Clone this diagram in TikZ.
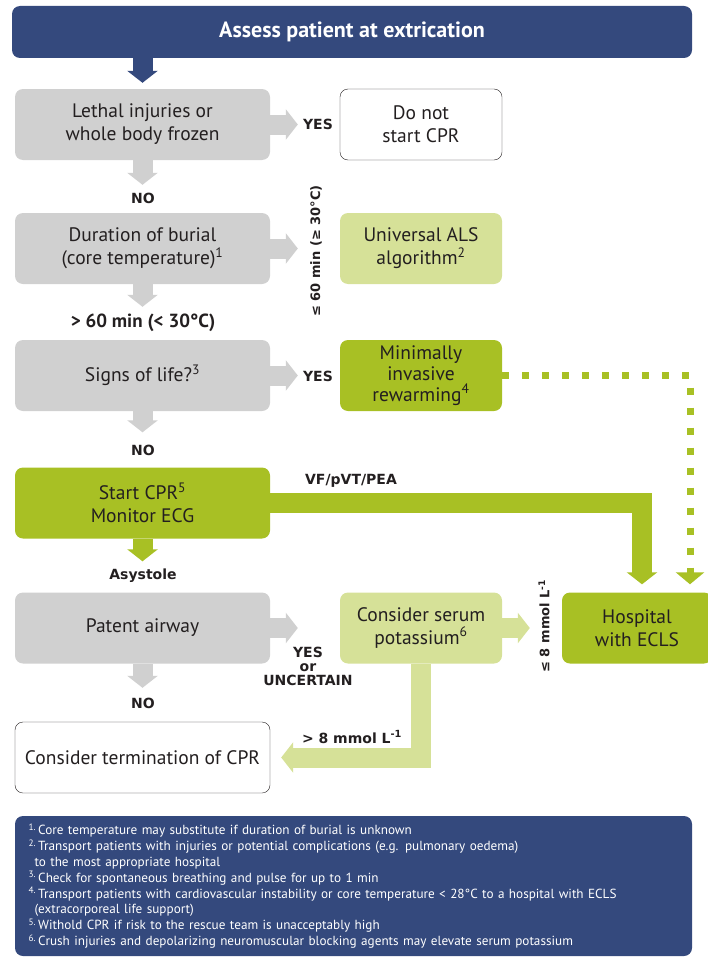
\documentclass[tikz,border=0pt]{standalone}
\usepackage{fontspec}
\setmainfont{PT Sans}
\newfontfamily\lblfont{DejaVu Sans}
\usetikzlibrary{arrows.meta, positioning}

\definecolor{navy}{RGB}{52,73,125}
\definecolor{boxgrey}{RGB}{208,208,208}
\definecolor{palegreen}{RGB}{214,225,152}
\definecolor{leafgreen}{RGB}{168,192,36}
\definecolor{inktext}{RGB}{35,31,32}

\begin{document}
\begin{tikzpicture}[
    x=1pt, y=-1pt,
    box/.style = {rectangle, rounded corners=8pt, minimum width=255pt, minimum height=71pt,
                  text centered, align=center, inner sep=2pt, text=inktext,
                  font=\fontsize{19.5}{23}\selectfont},
    greybox/.style = {box, fill=boxgrey},
    sidebox/.style = {box, minimum width=162pt},
    whitebox/.style = {box, draw=inktext, fill=white, thin},
    lightbox/.style = {sidebox, fill=palegreen},
    greenbox/.style = {sidebox, fill=leafgreen},
    flow/.style = {line width=20pt, -{Triangle[width=30pt, length=12pt]}},
    dots/.style = {line width=7pt, dash pattern=on 7pt off 13pt, draw=leafgreen,
                   -{Triangle[width=28pt, length=12pt]}},
    lbl/.style = {text=inktext, font=\lblfont\bfseries\fontsize{14}{15}\selectfont, align=center, inner sep=1pt}
]
\clip (0,0) rectangle (708,958);

% Header and footnotes
\node (header) [rectangle, rounded corners=8pt, fill=navy, minimum width=680pt, minimum height=52pt,
      text=white, font=\bfseries\fontsize{22}{26}\selectfont] at (352,32) {Assess patient at extrication};
\node (notes) [rectangle, rounded corners=8pt, fill=navy, minimum width=677pt, minimum height=140pt,
      text width=650pt, align=left, text=white, font=\fontsize{13.2}{15.85}\selectfont] at (353.5,886) {%
\textsuperscript{1.}\,Core temperature may substitute if duration of burial is unknown\\
\textsuperscript{2.}\,Transport patients with injuries or potential complications (e.g. pulmonary oedema)\\
\hspace*{6pt}to the most appropriate hospital\\
\textsuperscript{3.}\,Check for spontaneous breathing and pulse for up to 1 min\\
\textsuperscript{4.}\,Transport patients with cardiovascular instability or core temperature < 28°C to a hospital with ECLS\\
\hspace*{6pt}(extracorporeal life support)\\
\textsuperscript{5.}\,Withold CPR if risk to the rescue team is unacceptably high\\
\textsuperscript{6.}\,Crush injuries and depolarizing neuromuscular blocking agents may elevate serum potassium};

% Nodes - left column
\node (lethal) [greybox] at (142.5,124.5) {Lethal injuries or\\ whole body frozen};
\node (burial) [greybox] at (142.5,248.5) {Duration of burial\\ (core temperature)\textsuperscript{1}};
\node (signs) [greybox] at (142.5,375.5) {Signs of life?\textsuperscript{3}};
\node (startcpr) [greybox, fill=leafgreen] at (142.5,503) {Start CPR\textsuperscript{5}\\ Monitor ECG};
\node (airway) [greybox] at (142.5,628) {Patent airway};
\node (termination) [whitebox] at (142.5,757.5) {Consider termination of CPR};

% Nodes - right column
\node (nocpr) [whitebox, minimum width=162pt] at (421,124.5) {Do not\\ start CPR};
\node (als) [lightbox] at (421,248.5) {Universal ALS\\ algorithm\textsuperscript{2}};
\node (rewarm) [greenbox, font=\fontsize{19.5}{21}\selectfont] at (421,375.5) {Minimally\\ invasive\\ rewarming\textsuperscript{4}};
\node (potassium) [lightbox] at (421,628) {Consider serum\\ potassium\textsuperscript{6}};
\node (hospital) [greenbox, minimum width=150pt] at (637,628) {Hospital\\ with ECLS};

% Arrows - down the left column
\draw [flow, draw=navy, shorten >=6pt] (header.south -| lethal.north) -- (lethal.north);
\draw [flow, draw=boxgrey, shorten >=28pt] (lethal) -- (burial);
\draw [flow, draw=boxgrey, shorten >=33pt] (burial) -- (signs);
\draw [flow, draw=boxgrey, shorten >=35pt] (signs) -- (startcpr);
\draw [flow, draw=leafgreen, shorten >=31pt] (startcpr) -- (airway);
\draw [flow, draw=boxgrey, shorten >=34pt] (airway) -- (termination);

% Arrows - to the right
\draw [flow, draw=boxgrey, shorten >=42pt] (lethal) -- (nocpr);
\draw [flow, draw=boxgrey, shorten >=42pt] (burial) -- (als);
\draw [flow, draw=boxgrey, shorten >=42pt] (signs) -- (rewarm);
\draw [flow, draw=boxgrey, shorten >=42pt] (airway) -- (potassium);
\draw [flow, draw=palegreen, shorten >=32pt] (potassium) -- (hospital);

% Arrows - into hospital and back to termination
\coordinate (vfturn) at (642,503);
\coordinate (dotturn) at (690,375.5);
\draw [flow, draw=leafgreen, shorten >=8pt] (startcpr.east) -- (vfturn) -- (vfturn |- hospital.north);
\draw [dots, shorten >=8pt] (rewarm.east) -- (dotturn) -- (dotturn |- hospital.north);
\draw [flow, draw=palegreen, shorten >=11pt] (potassium.south) |- (termination.east);

% Labels
\node [lbl] at (318,124.5) {YES};
\node [lbl] at (143,198) {NO};
\node [lbl, rotate=90, font=\lblfont\bfseries\fontsize{13}{14}\selectfont] at (316,251) {≤ 60 min (≥ 30°C)};
\node [lbl, font=\bfseries\fontsize{19}{20}\selectfont] at (143,323) {> 60 min (< 30°C)};
\node [lbl] at (318,376) {YES};
\node [lbl] at (143,450) {NO};
\node [lbl] at (351,481) {VF/pVT/PEA};
\node [lbl] at (143,576) {Asystole};
\node [lbl, font=\lblfont\bfseries\fontsize{14}{14}\selectfont] at (308,666) {YES\\ or\\ UNCERTAIN};
\node [lbl, rotate=90, font=\lblfont\bfseries\fontsize{13}{14}\selectfont] at (544,626) {≤ 8 mmol L\textsuperscript{-1}};
\node [lbl] at (143,703) {NO};
\node [lbl] at (352,737) {> 8 mmol L\textsuperscript{-1}};

\end{tikzpicture}
\end{document}
